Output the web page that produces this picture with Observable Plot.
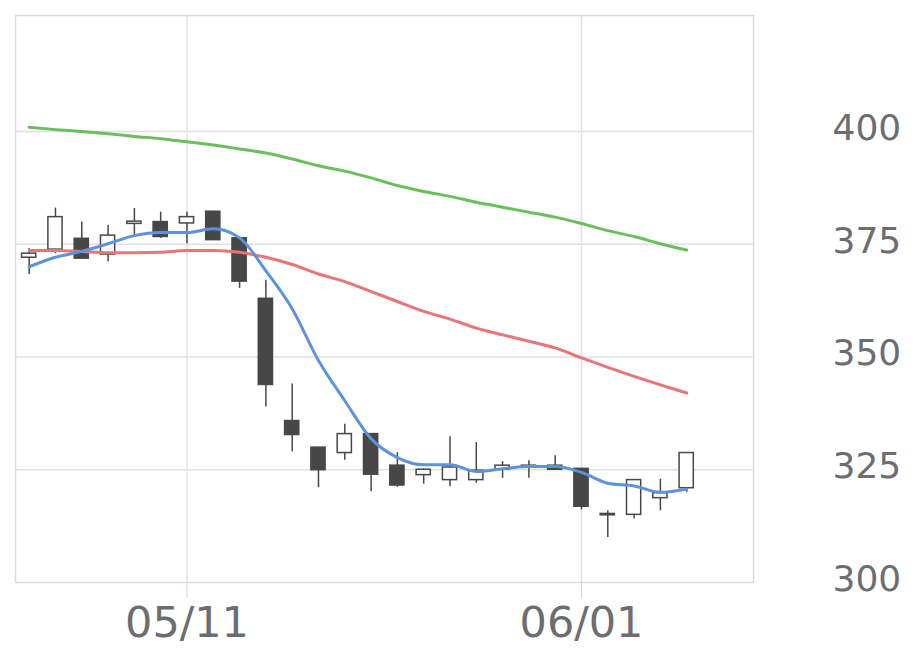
<!DOCTYPE html>
<html><head><meta charset="utf-8">
<script src="https://cdn.jsdelivr.net/npm/d3@7"></script>
<script src="https://cdn.jsdelivr.net/npm/@observablehq/plot@0.6"></script>
<style>body{margin:0;background:#fff}</style>
</head><body><div id="chart"></div>
<script>
const dates = ["05/01","05/04","05/05","05/06","05/07","05/08","05/11","05/12","05/13","05/14","05/15",
  "05/18","05/19","05/20","05/21","05/22","05/25","05/26","05/27","05/28","05/29",
  "06/01","06/02","06/03","06/04","06/05"];
const openV  = [372.0,373.8,376.2,372.7,379.5,379.9,379.6,382.2,376.3,362.9,335.8,329.9,328.7,332.9,325.9,323.8,322.7,322.7,325.0,325.7,325.9,325.2,315.2,315.0,318.7,320.9];
const highV  = [374.0,383.0,379.9,379.2,382.9,382.1,382.1,382.2,376.3,367.0,344.0,329.9,335.1,332.9,328.8,325.2,332.3,331.0,326.8,327.0,328.1,325.2,315.9,322.7,322.9,328.7];
const lowV   = [368.3,372.9,371.6,371.1,376.9,376.3,375.1,375.9,365.2,338.9,329.0,321.0,327.1,320.1,321.1,321.8,321.2,322.0,323.1,323.1,325.0,316.1,310.0,314.1,315.9,320.0];
const closeV = [372.9,381.0,371.8,376.9,380.0,376.6,381.0,375.9,366.7,343.8,332.7,324.9,332.9,323.9,321.5,325.0,325.5,324.8,325.9,325.9,325.0,316.8,314.9,322.7,319.8,328.7];
const ma5  = [370.0,372.1,373.4,375.1,376.9,377.6,377.6,378.4,376.4,369.1,360.7,349.2,340.3,331.9,327.7,326.1,326.1,324.6,325.2,325.7,325.7,324.4,322.0,321.4,320.0,320.7];
const ma25 = [373.6,373.6,373.4,373.1,373.1,373.2,373.6,373.6,373.2,372.1,370.5,368.4,366.7,364.5,362.3,360.1,358.4,356.4,354.9,353.5,352.0,349.8,347.7,345.7,343.8,342.0];
const ma75 = [400.9,400.4,400.0,399.5,398.9,398.4,397.7,397.0,396.1,395.2,393.9,392.4,391.2,389.7,388.0,386.7,385.6,384.3,383.2,382.1,381.0,379.6,378.0,376.7,375.1,373.7];
const xTickIndex = [6, 21];
const xTickLabels = ["05/11", "06/01"];
const yTicks = [300, 325, 350, 375, 400];

const candles = dates.map((d, i) => ({i, date: d, open: openV[i], high: highV[i], low: lowV[i], close: closeV[i]}));
const up = candles.filter(d => d.close >= d.open);
const down = candles.filter(d => d.close < d.open);
const fmt = i => xTickLabels[xTickIndex.indexOf(i)];
const textColor = "#6b6d70";
const ink = "#474747";
const halfW = 0.27;

const chart = Plot.plot({
  width: 920, height: 669,
  marginLeft: 15, marginRight: 167, marginTop: 15, marginBottom: 87,
  x: {domain: [-0.52, 27.54], axis: null},
  y: {domain: [300, 425.7], axis: null},
  style: {fontFamily: "DejaVu Sans", background: "#fff"},
  marks: [
    Plot.gridY(yTicks.slice(1), {stroke: "#e0e0e0", strokeOpacity: 1, strokeWidth: 1.5}),
    Plot.gridX(xTickIndex, {stroke: "#e0e0e0", strokeOpacity: 1, strokeWidth: 1.5}),
    Plot.frame({stroke: "#dcdcdc", strokeWidth: 1.5}),
    Plot.ruleX(candles, {x: "i", y1: "low", y2: "high", stroke: ink, strokeWidth: 1.5}),
    Plot.rect(up, {x1: d => d.i - halfW, x2: d => d.i + halfW, y1: "open", y2: "close", fill: "#fff", stroke: ink, strokeWidth: 1.5}),
    Plot.rect(down, {x1: d => d.i - halfW, x2: d => d.i + halfW, y1: "open", y2: "close", fill: ink, stroke: ink, strokeWidth: 1.5}),
    Plot.line(ma75, {x: (d, i) => i, y: d => d, stroke: "#6abf5c", strokeWidth: 3, curve: "monotone-x"}),
    Plot.line(ma25, {x: (d, i) => i, y: d => d, stroke: "#ea7477", strokeWidth: 3, curve: "monotone-x"}),
    Plot.line(ma5, {x: (d, i) => i, y: d => d, stroke: "#5d93da", strokeWidth: 3, curve: "monotone-x"}),
    Plot.axisX(xTickIndex, {anchor: "bottom", tickSize: 16, tickPadding: 8, stroke: "#c5d3ee", fill: textColor, fontSize: 43, tickFormat: fmt, label: null}),
    Plot.axisY(yTicks, {anchor: "right", tickSize: 0, tickPadding: 79, fill: textColor, fontSize: 36, dy: -3, label: null})
  ]
});
document.getElementById("chart").appendChild(chart);
</script>
</body></html>
